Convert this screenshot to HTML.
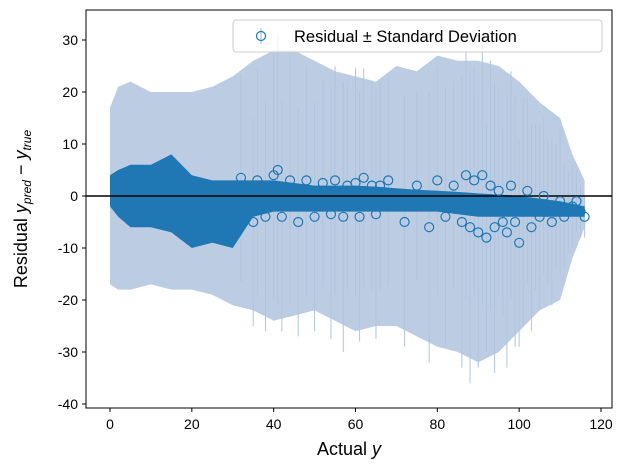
<!DOCTYPE html>
<html><head><meta charset="utf-8"><style>
body{margin:0;background:#fff;}
svg{display:block;font-family:"Liberation Sans","DejaVu Sans",sans-serif;}
</style></head><body>
<svg id="chart" width="629" height="470" viewBox="0 0 629 470" xmlns="http://www.w3.org/2000/svg">
<rect width="629" height="470" fill="#fff"/>
<g id="plot"></g>
<g id="axes"></g>
<text x="349" y="455" font-size="18" text-anchor="middle">Actual <tspan font-style="italic">y</tspan></text>
<text transform="translate(27,209) rotate(-90)" font-size="18" text-anchor="middle">Residual <tspan font-style="italic">y</tspan><tspan font-style="italic" font-size="12" dy="4">pred</tspan><tspan dy="-4"> − </tspan><tspan font-style="italic">y</tspan><tspan font-style="italic" font-size="12" dy="4">true</tspan></text>
<g>
<rect x="233" y="20" width="369" height="32" rx="3" fill="#fff" fill-opacity="0.8" stroke="#ccc"/>
<line x1="261" y1="28" x2="261" y2="44" stroke="#b0c4de" stroke-width="1.2"/>
<circle cx="261" cy="36" r="4.5" fill="none" stroke="#1f77b4" stroke-width="1.2"/>
<text x="294" y="42" font-size="16.5">Residual ± Standard Deviation</text>
</g>
</svg>
<script>
// envelope data (bins)
const binX = [0,2,5,10,15,20,25,30,35,40,45,50,55,60,65,70,75,80,85,90,95,100,105,110,113,116];
const errTop = [17,21,22,20,20,20,21,23,26,28,28,26,24,23,22,25,24,27,26,26,25,22,18,15,8,3];
const errBot = [-17,-18,-18,-17,-18,-18,-19,-21,-22,-24,-23,-22,-24,-26,-25,-25,-27,-29,-30,-32,-30,-26,-22,-20,-12,-6];
const resTop = [4,5,6,6,8,4,3,3,3,3,2.5,2,2,2,1.8,1.5,1.2,1,0.8,0.5,0.3,0,-0.5,-1,-1.5,-2];
const resBot = [-2,-4,-6,-6,-7,-10,-9,-10,-4,-3,-3,-3,-3,-3,-3,-3,-3,-3,-3.5,-4,-4,-4,-4,-4,-4,-4];
// sparse / edge points
const ptX = [32,36,40,41,44,48,52,55,58,60,62,64,66,35,38,42,46,50,54,57,61,65,68,72,75,78,80,82,84,86,87,88,89,90,91,92,93,94,95,96,97,98,99,100,101,102,103,104,105,106,107,108,109,110,111,112,113,114,115,116];
const ptY = [3.5,3,4,5,3,3,2.5,3,2,2.5,3.5,2,2,-5,-4,-4,-5,-4,-3.5,-4,-4,-3.5,3,-5,2,-6,3,-4,2,-5,4,-6,3,-7,4,-8,2,-6,1,-5,-7,2,-5,-9,-3,1,-6,-2,-4,0,-3,-5,-2,-1,-4,-3,-2,-1,-3,-4];
const ptErr = [20,22,24,26,24,22,20,22,20,22,21,20,20,20,22,22,22,22,24,26,24,24,20,24,18,26,22,25,20,28,24,30,22,26,25,22,24,28,20,18,26,22,24,20,22,18,20,16,18,15,14,16,12,14,10,8,8,6,5,4];

const ns="http://www.w3.org/2000/svg";
const L=86,R=612,T=10,B=408;
const xs=v=>110+v*(601-110)/120;
const ys=v=>196-v*5.2;
const plot=document.getElementById('plot'), axes=document.getElementById('axes');
function mk(tag,attrs,parent){const e=document.createElementNS(ns,tag);for(const k in attrs)e.setAttribute(k,attrs[k]);parent.appendChild(e);return e;}
function band(top,bot){let p=binX.map((x,i)=>xs(x)+','+ys(top[i]));for(let i=binX.length-1;i>=0;i--)p.push(xs(binX[i])+','+ys(bot[i]));return p.join(' ');}
const eb=mk('polygon',{points:band(errTop,errBot),fill:'#b0c4de','fill-opacity':'0.85'},plot);


ptX.forEach((x,i)=>{const l=mk('line',{x1:xs(x),x2:xs(x),y1:ys(ptY[i]+ptErr[i]),y2:ys(ptY[i]-ptErr[i]),stroke:'#b0c4de','stroke-width':1},plot);

});
const rb=mk('polygon',{points:band(resTop,resBot),fill:'#1f77b4'},plot);


const zl=mk('line',{x1:L,x2:R,y1:ys(0),y2:ys(0),stroke:'#000','stroke-width':1.6},plot);


ptX.forEach((x,i)=>{const c=mk('circle',{cx:xs(x),cy:ys(ptY[i]),r:4.5,fill:'none',stroke:'#1f77b4','stroke-width':1.2},plot);

});
const fr=mk('rect',{x:L,y:T,width:R-L,height:B-T,fill:'none',stroke:'#000','stroke-width':1},axes);


const xt=[0,20,40,60,80,100,120], yt=[30,20,10,0,-10,-20,-30,-40];
xt.forEach(v=>{mk('line',{x1:xs(v),x2:xs(v),y1:B,y2:B+4,stroke:'#000'},axes);
const t=mk('text',{x:xs(v),y:B+21,'font-size':14,'text-anchor':'middle'},axes);t.textContent=v;

});
yt.forEach(v=>{mk('line',{x1:L-4,x2:L,y1:ys(v),y2:ys(v),stroke:'#000'},axes);
const t=mk('text',{x:L-8,y:ys(v)+5,'font-size':14,'text-anchor':'end'},axes);t.textContent=v;

});
</script>
</body></html>
